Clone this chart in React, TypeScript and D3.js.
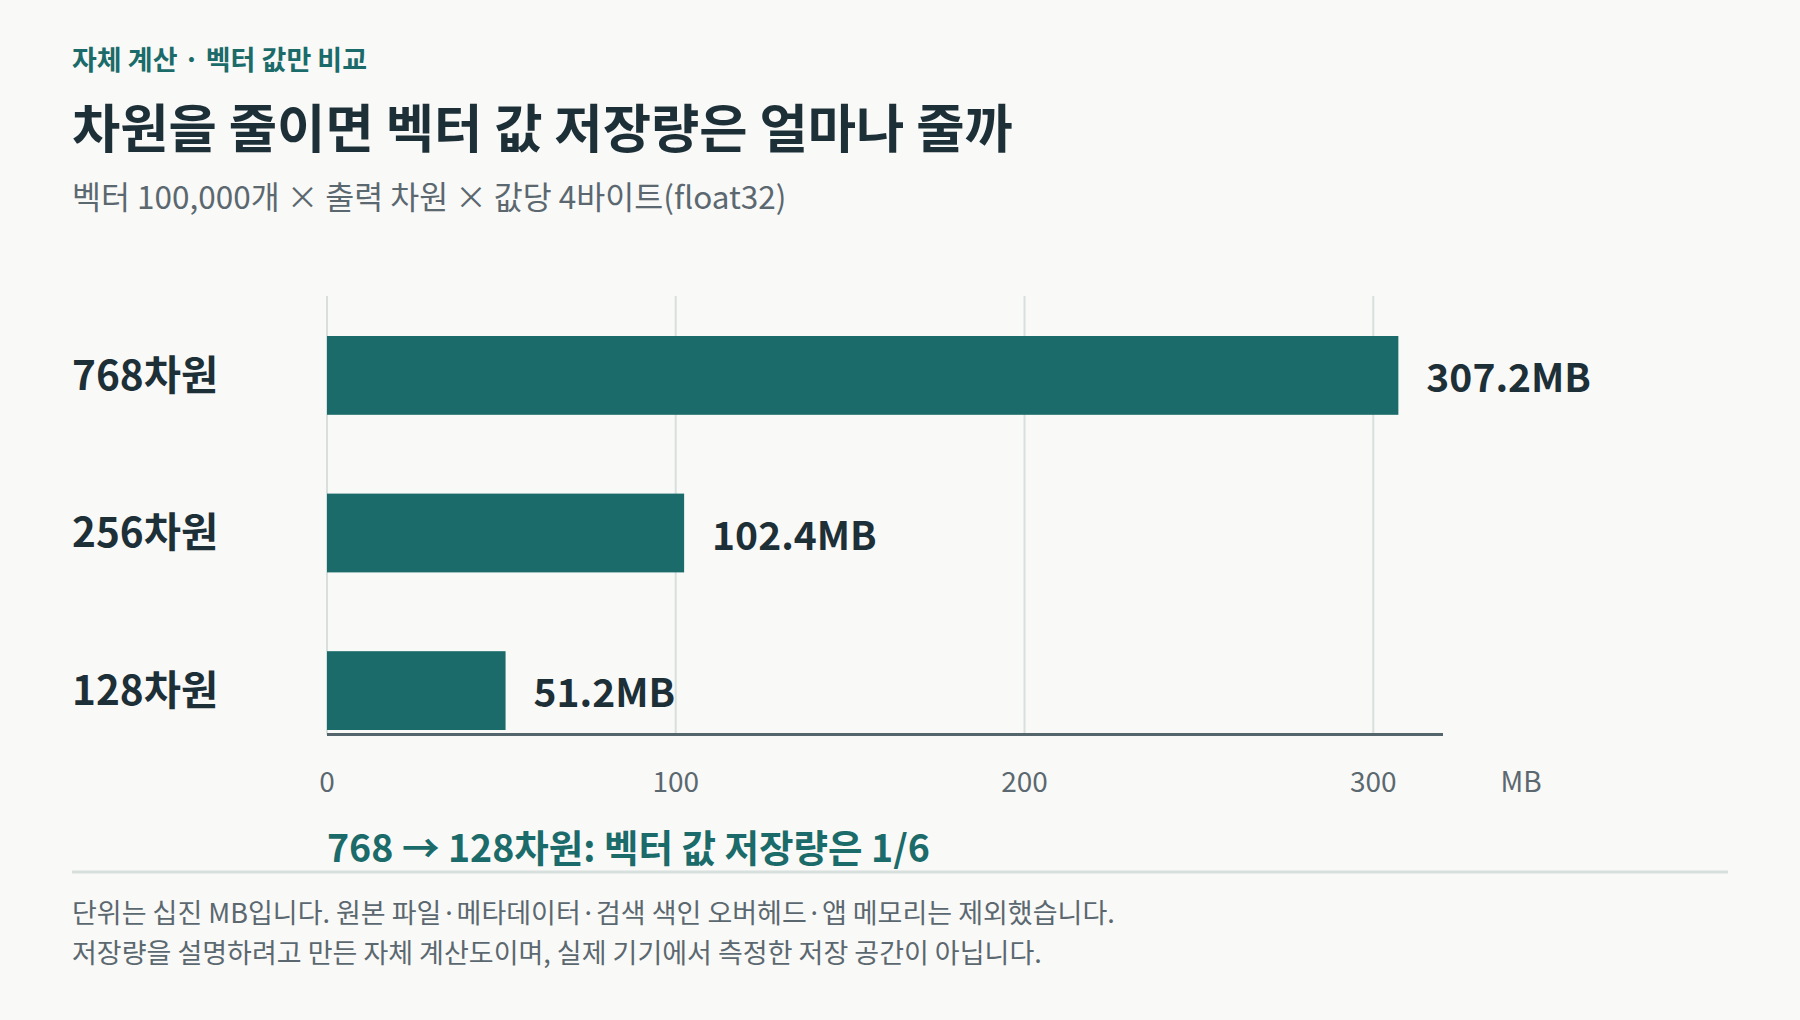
import React from "react";
import * as d3 from "d3";

const categories = ["768차원", "256차원", "128차원"];
const values = [307.2, 102.4, 51.2];
const valueLabels = ["307.2MB", "102.4MB", "51.2MB"];
const xTicks = [0, 100, 200, 300];
const eyebrow = "자체 계산 · 벡터 값만 비교";
const title = "차원을 줄이면 벡터 값 저장량은 얼마나 줄까";
const subtitle = "벡터 100,000개 × 출력 차원 × 값당 4바이트(float32)";
const takeaway = "768 → 128차원: 벡터 값 저장량은 1/6";
const notes = [
  "단위는 십진 MB입니다. 원본 파일·메타데이터·검색 색인 오버헤드·앱 메모리는 제외했습니다.",
  "저장량을 설명하려고 만든 자체 계산도이며, 실제 기기에서 측정한 저장 공간이 아닙니다.",
];

const W = 1800;
const H = 1020;
const FONT = "'Noto Sans CJK KR', 'Noto Sans', sans-serif";
const TEAL = "#1a6b69";
const DARK = "#1d2f37";
const GRAY = "#5b6870";

export default function App() {
  const x = d3.scaleLinear().domain([0, 320]).range([327, 1443]);
  const y = d3.scaleBand().domain(categories).range([336, 730]).paddingInner(0.5).paddingOuter(0);
  const gridTop = 296;
  const axisY = 734.5;

  return (
    <svg width={W} height={H} style={{ position: "absolute", left: 0, top: 0, background: "#f9f9f7" }} fontFamily={FONT}>
      <rect x={0} y={0} width={W} height={H} fill="#f9f9f7" />
      <text x={72} y={70} fontSize={27} fontWeight={700} fill={TEAL}>{eyebrow}</text>
      <text x={72} y={148} fontSize={52.5} fontWeight={700} fill={DARK}>{title}</text>
      <text x={72} y={209} fontSize={31.5} fill={GRAY}>{subtitle}</text>

      {xTicks.map((t) => (
        <line key={"g" + t} x1={x(t)} x2={x(t)} y1={gridTop} y2={axisY} stroke="#d8e0dd" strokeWidth={2} />
      ))}

      {categories.map((c, i) => (
        <g key={c}>
          <rect x={x(0)} y={y(c)!} width={x(values[i]) - x(0)} height={y.bandwidth()} fill={TEAL} />
          <text x={72} y={y(c)! + y.bandwidth() / 2} dy="0.35em" fontSize={40.5} fontWeight={700} fill={DARK}>{c}</text>
          <text x={x(values[i]) + 28} y={y(c)! + y.bandwidth() / 2 + 3} dy="0.35em" fontSize={39} fontWeight={700} fill={DARK}>{valueLabels[i]}</text>
        </g>
      ))}

      <line x1={x(0)} x2={x(320)} y1={axisY} y2={axisY} stroke="#55656c" strokeWidth={3} />

      {xTicks.map((t) => (
        <text key={"t" + t} x={x(t)} y={792} textAnchor="middle" fontSize={28} fill={GRAY}>{t}</text>
      ))}
      <text x={1521} y={792} textAnchor="middle" fontSize={28} fill={GRAY}>MB</text>

      <text x={327} y={862} fontSize={37.5} fontWeight={700} fill={TEAL}>{takeaway}</text>
      <line x1={72} x2={1728} y1={872} y2={872} stroke="#d8e0dd" strokeWidth={3} />

      {notes.map((n, i) => (
        <text key={i} x={72} y={923 + i * 40} fontSize={27} fill={GRAY}>{n}</text>
      ))}
    </svg>
  );
}
